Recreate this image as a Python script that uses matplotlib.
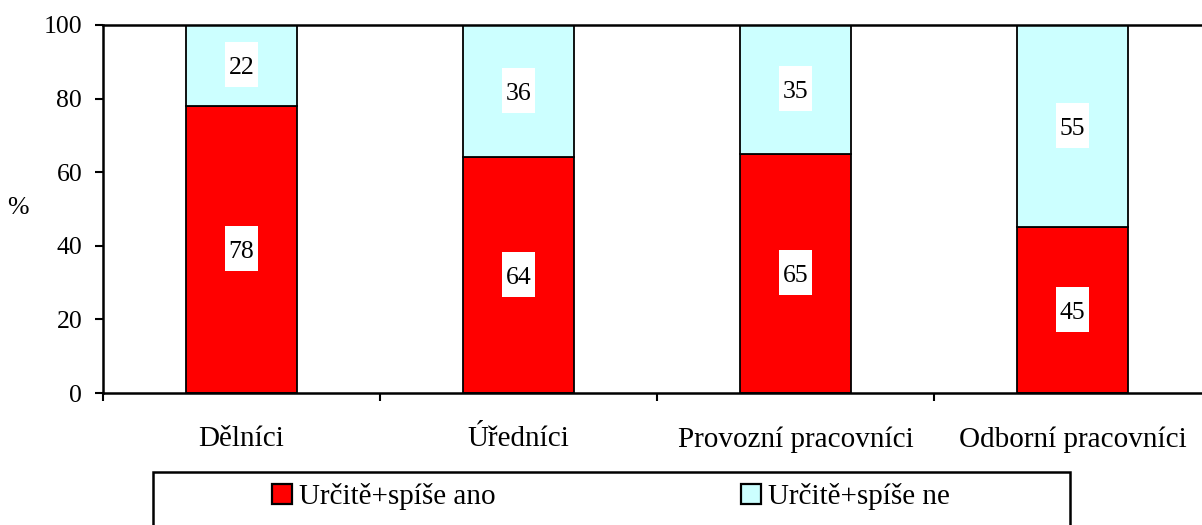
import matplotlib
matplotlib.use('Agg')
import matplotlib.pyplot as plt
from matplotlib.patches import Rectangle, Patch
from matplotlib.path import Path
import numpy as np

plt.rcParams['font.family'] = ['Liberation Serif', 'DejaVu Serif']

categories = ['Dělníci', 'Úředníci', 'Provozní pracovníci', 'Odborní pracovníci']
ano = [78, 64, 65, 45]
ne = [22, 36, 35, 55]
series_names = ['Určitě+spíše ano', 'Určitě+spíše ne']


def tall_box(x0, y0, width, height, mutation_size):
    # white label box: narrow on the sides, roomy above and below
    px = 0.15 * mutation_size
    top, bot = 0.57 * mutation_size, 0.33 * mutation_size
    x1, y1 = x0 + width + px, y0 + height + top
    x0, y0 = x0 - px, y0 - bot
    return Path([(x0, y0), (x1, y0), (x1, y1), (x0, y1), (x0, y0)], closed=True)


W, H = 1202, 525
fig = plt.figure(figsize=(W / 100, H / 100), dpi=100)
# axes runs past the right edge of the picture, as in the original
ax = fig.add_axes([103 / W, (H - 393) / H, (1211 - 103) / W, (393 - 25) / H])

x = np.arange(len(categories))
red, cyan = '#FF0000', '#CCFFFF'
ax.bar(x, ano, width=0.4, color=red, edgecolor='black', linewidth=1.3)
ax.bar(x, ne, width=0.4, bottom=ano, color=cyan, edgecolor='black', linewidth=1.3)

for i in range(len(categories)):
    for val, base in ((ano[i], 0), (ne[i], ano[i])):
        ax.text(x[i], base + val / 2, str(val), ha='center', va='center_baseline',
                fontsize=18.5,
                bbox=dict(boxstyle=tall_box, facecolor='white', edgecolor='none'))

ax.set_xlim(-0.5, len(categories) - 0.5)
ax.set_ylim(0, 100)
ax.set_yticks([0, 20, 40, 60, 80, 100])
ax.tick_params(axis='y', labelsize=18.5, length=6, width=1.5, direction='out', pad=9)

ax.set_xticks(np.arange(len(categories) + 1) - 0.5)
ax.set_xticklabels([])
ax.tick_params(axis='x', which='major', length=6, width=1.5, direction='out')
ax.set_xticks(x, minor=True)
ax.set_xticklabels(categories, minor=True)
ax.tick_params(axis='x', which='minor', length=0, labelsize=21, pad=24)

for s in ('left', 'bottom', 'top'):
    ax.spines[s].set_linewidth(1.8)
ax.spines['right'].set_visible(False)

ax.set_ylabel('%', rotation=0, fontsize=18.5, labelpad=0, va='center', ha='center')
ax.yaxis.set_label_coords(-0.0767, 0.503)

# legend frame
fig.patches.append(Rectangle((153 / W, -0.1), (1070 - 153) / W, (0.1 + (H - 472) / H),
                             transform=fig.transFigure, fill=False, edgecolor='black',
                             linewidth=1.8))
handles = [Patch(facecolor=red, edgecolor='black', linewidth=1.6),
           Patch(facecolor=cyan, edgecolor='black', linewidth=1.6)]
fig.legend(handles, series_names, loc='center', bbox_to_anchor=(611 / W, (H - 497) / H),
           ncol=2, frameon=False, fontsize=21, handlelength=0.69, handleheight=0.69,
           handletextpad=0.24, columnspacing=8.4, borderpad=0, borderaxespad=0)

fig.savefig('out.png', dpi=100)
